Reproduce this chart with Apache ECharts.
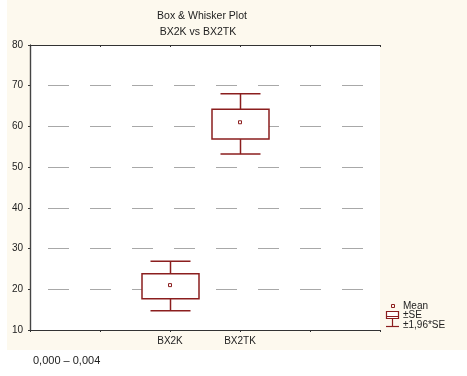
<!DOCTYPE html>
<html>
<head>
<meta charset="utf-8">
<script src="https://cdn.jsdelivr.net/npm/echarts@6/dist/echarts.min.js"></script>
<style>html,body{margin:0;padding:0;background:#fff;}#c{width:467px;height:376px;}</style>
</head>
<body>
<div id="c"></div>
<script>
// Data
const groups = ['BX2K', 'BX2TK'];
const groupPos = [2, 3];            // position on the x scale (0..5)
const means = [20.9, 60.9];
const seLow = [17.7, 56.9];
const seHigh = [23.8, 64.2];
const ciLow = [14.7, 53.2];
const ciHigh = [26.9, 68.0];
const yTicks = [10, 20, 30, 40, 50, 60, 70, 80];
const legendLabels = ['Mean', '±SE', '±1,96*SE'];
const footer = '0,000 – 0,004';

const RED = '#8b1e1e';
const FONT = 'Liberation Sans, Arial, sans-serif';

const data = groups.map((g, i) => [groupPos[i], ciLow[i], seLow[i], means[i], seHigh[i], ciHigh[i]]);

const chart = echarts.init(document.getElementById('c'), null, {renderer: 'canvas'});

function renderItem(params, api) {
  const x = api.value(0);
  const pLo = api.coord([x, api.value(1)]);
  const pBL = api.coord([x, api.value(2)]);
  const pM = api.coord([x, api.value(3)]);
  const pBH = api.coord([x, api.value(4)]);
  const pHi = api.coord([x, api.value(5)]);
  const cx = Math.round(pM[0]) + 0.5;
  const bw = 57, cw = 40;
  const ls = {stroke: RED, lineWidth: 1.5, fill: null};
  return {
    type: 'group',
    children: [
      {type: 'line', shape: {x1: cx, y1: pHi[1], x2: cx, y2: pBH[1]}, style: ls},
      {type: 'line', shape: {x1: cx, y1: pBL[1], x2: cx, y2: pLo[1]}, style: ls},
      {type: 'line', shape: {x1: cx - cw / 2, y1: pHi[1], x2: cx + cw / 2, y2: pHi[1]}, style: ls},
      {type: 'line', shape: {x1: cx - cw / 2, y1: pLo[1], x2: cx + cw / 2, y2: pLo[1]}, style: ls},
      {type: 'rect', shape: {x: cx - bw / 2, y: pBH[1], width: bw, height: pBL[1] - pBH[1]},
        style: {stroke: RED, lineWidth: 1.5, fill: '#fff'}},
      {type: 'rect', shape: {x: cx - 2, y: pM[1] - 2, width: 3, height: 3},
        style: {stroke: RED, lineWidth: 1, fill: null}}
    ]
  };
}

const option = {
  animation: false,
  backgroundColor: '#fff',
  textStyle: {fontFamily: FONT},
  grid: {left: 30, right: 87, top: 45, bottom: 46, show: true, backgroundColor: '#fff', borderWidth: 0},
  xAxis: [{
    type: 'value', min: 0, max: 5, interval: 1, position: 'bottom',
    axisLine: {show: true, lineStyle: {color: '#333', width: 1.2}},
    axisTick: {show: true, inside: false, length: 2, lineStyle: {color: '#333'}},
    axisLabel: {
      color: '#222', fontSize: 10, fontFamily: FONT, margin: 6,
      formatter: v => { const i = groupPos.indexOf(v); return i >= 0 ? groups[i] : ''; }
    },
    splitLine: {show: false}
  }, {
    type: 'value', min: 0, max: 5, interval: 1, position: 'top',
    axisLine: {show: true, lineStyle: {color: '#333', width: 1.2}},
    axisTick: {show: true, inside: true, length: 2, lineStyle: {color: '#333'}},
    axisLabel: {show: false},
    splitLine: {show: false}
  }],
  yAxis: [{
    type: 'value', min: yTicks[0], max: yTicks[yTicks.length - 1], interval: 10, position: 'left',
    axisLine: {show: true, lineStyle: {color: '#333', width: 1.2}},
    axisTick: {show: true, length: 2, lineStyle: {color: '#333'}},
    axisLabel: {color: '#222', fontSize: 10, fontFamily: FONT, margin: 7},
    splitLine: {show: true, lineStyle: {color: '#a8a8a8', width: 1, type: [21, 21], dashOffset: 24}}
  }, {
    type: 'value', min: yTicks[0], max: yTicks[yTicks.length - 1], interval: 10, position: 'right',
    axisLine: {show: true, lineStyle: {color: '#444', width: 1.2}},
    axisTick: {show: false}, axisLabel: {show: false}, splitLine: {show: false}
  }],
  series: [{
    type: 'custom',
    renderItem: renderItem,
    encode: {x: 0, y: [1, 2, 3, 4, 5]},
    data: data,
    z: 5
  }],
  graphic: [
    {type: 'rect', z: -10, silent: true, shape: {x: 7, y: 0, width: 460, height: 350}, style: {fill: '#fdf9ee'}},
    {type: 'text', x: 202, y: 16, style: {text: 'Box & Whisker Plot', fill: '#222', font: '10.5px ' + FONT, textAlign: 'center', textVerticalAlign: 'middle'}},
    {type: 'text', x: 198, y: 32, style: {text: 'BX2K vs BX2TK', fill: '#222', font: '10.5px ' + FONT, textAlign: 'center', textVerticalAlign: 'middle'}},
    // legend
    {type: 'rect', shape: {x: 391.5, y: 304.5, width: 3, height: 3}, style: {stroke: RED, lineWidth: 1, fill: null}},
    {type: 'text', x: 403, y: 306, style: {text: legendLabels[0], fill: '#222', font: '10px ' + FONT, textVerticalAlign: 'middle'}},
    {type: 'rect', shape: {x: 386.5, y: 311.5, width: 12, height: 7}, style: {stroke: RED, lineWidth: 1.2, fill: '#fff'}},
    {type: 'line', shape: {x1: 386.5, y1: 316.5, x2: 398.5, y2: 316.5}, style: {stroke: RED, lineWidth: 1}},
    {type: 'line', shape: {x1: 392.5, y1: 318.5, x2: 392.5, y2: 326.5}, style: {stroke: RED, lineWidth: 1.2}},
    {type: 'line', shape: {x1: 386, y1: 326.5, x2: 399, y2: 326.5}, style: {stroke: RED, lineWidth: 1.2}},
    {type: 'text', x: 403, y: 315.5, style: {text: legendLabels[1], fill: '#222', font: '10px ' + FONT, textVerticalAlign: 'middle'}},
    {type: 'text', x: 403, y: 325.5, style: {text: legendLabels[2], fill: '#222', font: '10px ' + FONT, textVerticalAlign: 'middle'}},
    {type: 'text', x: 33, y: 361, style: {text: footer, fill: '#222', font: '11px ' + FONT, textVerticalAlign: 'middle'}}
  ]
};
chart.setOption(option);
</script>
</body>
</html>
